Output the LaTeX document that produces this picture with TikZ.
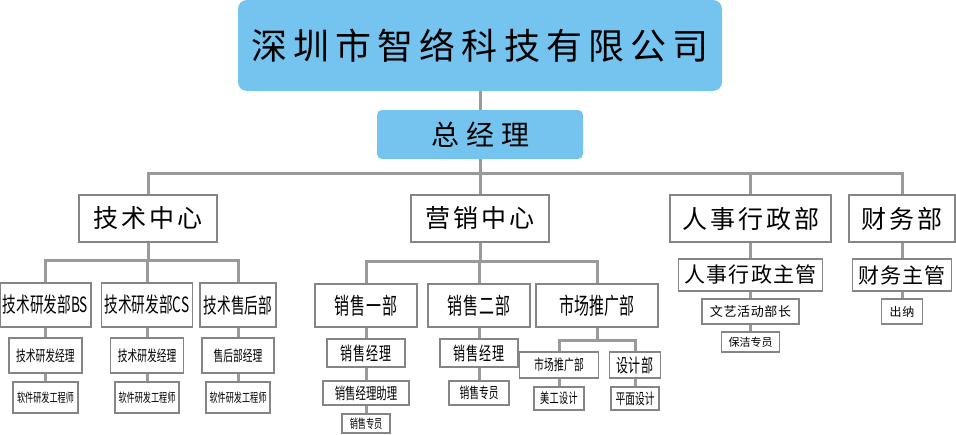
\documentclass[tikz,border=0pt]{standalone}
\usepackage{fontspec}
\newfontfamily\cjk{Noto Sans CJK SC}
\newfontfamily\cjkn[FakeStretch=0.65]{Noto Sans CJK SC}
\definecolor{skyblue}{HTML}{75C4EF}
\definecolor{linegray}{HTML}{9A9A9A}
\definecolor{boxgray}{HTML}{858585}

\begin{document}
\begin{tikzpicture}[x=1pt, y=-1pt,
  link/.style={line width=3pt, linegray},
  bluebox/.style={fill=skyblue, inner sep=0pt},
  unit/.style={draw=boxgray, line width=1.8pt, fill=white, inner sep=0pt},
  cw/.style 2 args={font=\fontsize{#1}{#1}\selectfont\cjk\addfontfeature{LetterSpace=#2}},
  cn/.style 2 args={font=\fontsize{#1}{#1}\selectfont\cjkn\addfontfeature{LetterSpace=#2}},
  head/.style={unit, minimum height=47pt, cw={25}{12}}]
    \useasboundingbox (0,0) rectangle (956,434);

    % Company and general manager
    \node[bluebox, rounded corners=9pt, minimum width=484pt, minimum height=91pt, cw={36}{17}] (co) at (480,45.5) {深圳市智络科技有限公司};
    \node[bluebox, rounded corners=5pt, minimum width=206pt, minimum height=49pt, cw={28}{25}] (gm) at (480,134.5) {总经理};

    % Centres and departments
    \node[head, minimum width=138pt] (tech) at (148,218.5) {技术中心};
    \node[head, minimum width=138pt] (mkt) at (480,218.5) {营销中心};
    \node[head, minimum width=161pt] (hr) at (750.5,218.5) {人事行政部};
    \node[head, minimum width=106pt] (fin) at (902,218.5) {财务部};

    % Technology centre
    \node[unit, minimum width=91pt, minimum height=44pt, cn={21}{0}] (bs) at (45.5,305) {技术研发部BS};
    \node[unit, minimum width=91pt, minimum height=44pt, cn={21}{0}] (cs) at (147,305) {技术研发部CS};
    \node[unit, minimum width=76pt, minimum height=44pt, cn={21}{0}] (after) at (238,305) {技术售后部};
    \node[unit, minimum width=73pt, minimum height=35pt, cn={15}{0}] (bsm) at (45.5,355.5) {技术研发经理};
    \node[unit, minimum width=73pt, minimum height=35pt, cn={15}{0}] (csm) at (147,355.5) {技术研发经理};
    \node[unit, minimum width=72pt, minimum height=35pt, cn={15}{0}] (afm) at (238,355.5) {售后部经理};
    \node[unit, minimum width=65pt, minimum height=31pt, cn={12.5}{0}] (bse) at (45.5,397.5) {软件研发工程师};
    \node[unit, minimum width=64pt, minimum height=31pt, cn={12.5}{0}] (cse) at (147,397.5) {软件研发工程师};
    \node[unit, minimum width=64pt, minimum height=31pt, cn={12.5}{0}] (afe) at (238,397.5) {软件研发工程师};

    % Marketing centre
    \node[unit, minimum width=102pt, minimum height=43pt, cn={23}{4}] (s1) at (366,305.5) {销售一部};
    \node[unit, minimum width=102pt, minimum height=43pt, cn={23}{4}] (s2) at (479,305.5) {销售二部};
    \node[unit, minimum width=122pt, minimum height=43pt, cn={23}{0}] (mp) at (597,305.5) {市场推广部};
    \node[unit, minimum width=78pt, minimum height=28pt, cn={18.5}{7}] (s1m) at (366,353) {销售经理};
    \node[unit, minimum width=86pt, minimum height=24pt, cn={16}{0}] (s1a) at (366,393) {销售经理助理};
    \node[unit, minimum width=48pt, minimum height=19pt, cn={12.5}{0}] (s1s) at (366,423.5) {销售专员};
    \node[unit, minimum width=78pt, minimum height=28pt, cn={18.5}{7}] (s2m) at (479,353) {销售经理};
    \node[unit, minimum width=60pt, minimum height=24pt, cn={15}{0}] (s2s) at (479,393) {销售专员};
    \node[unit, minimum width=79pt, minimum height=26pt, cn={15}{2}] (mps) at (559,365) {市场推广部};
    \node[unit, minimum width=51pt, minimum height=26pt, cn={18.5}{5}] (dsg) at (635,365) {设计部};
    \node[unit, minimum width=50pt, minimum height=23pt, cn={14}{3}] (art) at (559,398.5) {美工设计};
    \node[unit, minimum width=48pt, minimum height=23pt, cn={15}{0}] (flat) at (635,398.5) {平面设计};

    % Personnel and finance
    \node[unit, minimum width=144pt, minimum height=32pt, cw={21}{6}] (hrm) at (750.5,275) {人事行政主管};
    \node[unit, minimum width=97pt, minimum height=25pt, cw={13}{5}] (cult) at (750.5,311.5) {文艺活动部长};
    \node[unit, minimum width=58pt, minimum height=20pt, cw={11}{0}] (clean) at (750.5,342) {保洁专员};
    \node[unit, minimum width=99pt, minimum height=32pt, cw={21}{6}] (finm) at (902,275) {财务主管};
    \node[unit, minimum width=41pt, minimum height=25pt, cw={12}{8}] (cash) at (902,311.5) {出纳};

    % Connectors
    \draw[link] (co.south) -- (gm.north);
    \foreach \c in {tech,mkt,hr,fin}
        \draw[link] (gm.south) -- ++(0,14) -| (\c.north);
    \foreach \c in {bs,cs,after}
        \draw[link] (tech.south) -- ++(0,18) -| (\c.north);
    \foreach \c in {s1,s2,mp}
        \draw[link] (mkt.south) -- ++(0,19) -| (\c.north);
    \foreach \c in {mps,dsg}
        \draw[link] (mp.south) -- ++(0,13) -| (\c.north);
    \draw[link] (bs.south) -- (bsm.north);
    \draw[link] (bsm.south) -- (bse.north);
    \draw[link] (cs.south) -- (csm.north);
    \draw[link] (csm.south) -- (cse.north);
    \draw[link] (after.south) -- (afm.north);
    \draw[link] (afm.south) -- (afe.north);
    \draw[link] (s1.south) -- (s1m.north);
    \draw[link] (s1m.south) -- (s1a.north);
    \draw[link] (s1a.south) -- (s1s.north);
    \draw[link] (s2.south) -- (s2m.north);
    \draw[link] (s2m.south) -- (s2s.north);
    \draw[link] (mps.south) -- (art.north);
    \draw[link] (dsg.south) -- (flat.north);
    \draw[link] (hr.south) -- (hrm.north);
    \draw[link] (hrm.south) -- (cult.north);
    \draw[link] (cult.south) -- (clean.north);
    \draw[link] (fin.south) -- (finm.north);
    \draw[link] (finm.south) -- (cash.north);
\end{tikzpicture}
\end{document}
